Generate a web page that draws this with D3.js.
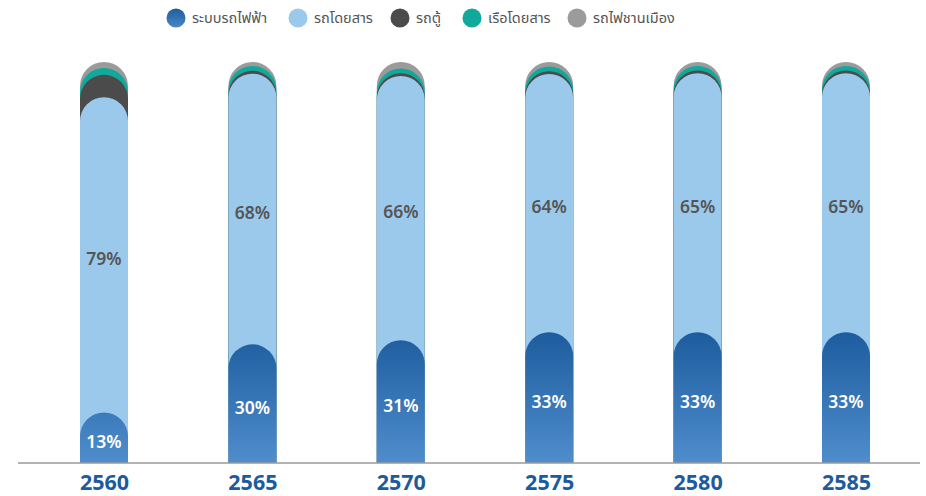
<!DOCTYPE html>
<html><head><meta charset="utf-8">
<script src="https://cdn.jsdelivr.net/npm/d3@7"></script>
<style>
html,body{margin:0;padding:0;background:#fff;}
svg{display:block;font-family:"Noto Sans Thai","Noto Sans","Open Sans",sans-serif;}
</style></head>
<body><svg id="c" width="926" height="496"></svg>
<script>
const years = ['2560','2565','2570','2575','2580','2585'];
const seriesNames = ['ระบบรถไฟฟ้า','รถโดยสาร','รถตู้','เรือโดยสาร','รถไฟชานเมือง'];
const rail  = [12.6, 29.6, 30.6, 32.6, 32.6, 32.6];
const bus   = [78.6, 67.5, 65.9, 64.4, 64.6, 64.6];
const van   = [5.6, 0.7, 0.7, 0.7, 0.7, 0.7];
const boat  = [1.7, 1.2, 1.2, 1.2, 1.1, 1.1];
const train = [1.5, 1.0, 1.6, 1.1, 1.0, 1.0];
const colors = ['url(#railGrad)','#9bc9ec','#4b4b4b','#10a99b','#9b9b9b'];
const legendColors = ['url(#legGrad)','#9bc9ec','#4b4b4b','#10a99b','#9b9b9b'];
const labeled = [true, true, false, false, false];
const labelColors = ['#ffffff','#555555'];

const svg = d3.select('#c');
const defs = svg.append('defs');
const g1 = defs.append('linearGradient').attr('id','railGrad')
  .attr('gradientUnits','userSpaceOnUse').attr('x1',0).attr('x2',0).attr('y1',330).attr('y2',463);
g1.append('stop').attr('offset','0%').attr('stop-color','#1c5b9d');
g1.append('stop').attr('offset','100%').attr('stop-color','#4f8dcd');
const g2 = defs.append('linearGradient').attr('id','legGrad').attr('x1',0).attr('x2',0).attr('y1',0).attr('y2',1);
g2.append('stop').attr('offset','0%').attr('stop-color','#1f5d9e');
g2.append('stop').attr('offset','100%').attr('stop-color','#4a86c6');

const seriesData = [rail, bus, van, boat, train];
const x = d3.scalePoint().domain(years).range([104, 846]);
const y = d3.scaleLinear().domain([0, 100]).range([463, 62]);
const bw = 48, r = bw / 2;

const stacked = years.map((yr, i) => {
  let c = 0;
  return seriesData.map((s, k) => { const lo = c; c += s[i]; return {k, lo, hi: c, v: s[i], yr}; });
});

function seg(cx, top, base) {
  const x0 = cx - r, x1 = cx + r;
  const p = d3.path();
  p.moveTo(x0, base);
  p.lineTo(x0, top + r);
  p.arc(cx, top + r, r, Math.PI, 0);
  p.lineTo(x1, base);
  p.closePath();
  return p.toString();
}

const bars = svg.append('g');
stacked.forEach(col => {
  const gg = bars.append('g');
  col.slice().reverse().forEach(d => {
    gg.append('path').attr('d', seg(x(d.yr), y(d.hi), y(0))).attr('fill', colors[d.k]);
  });
  col.forEach(d => {
    if (!labeled[d.k]) return;
    gg.append('text').attr('x', x(d.yr)).attr('y', (y(d.lo) + y(d.hi)) / 2 + 4)
      .attr('text-anchor','middle').attr('dy','0.36em')
      .attr('font-size', 17.5).attr('font-weight', 600)
      .attr('fill', labelColors[d.k]).text(Math.round(d.v) + '%');
  });
});

const ax = svg.append('g').attr('transform', `translate(0,${y(0)})`)
  .call(d3.axisBottom(x).tickSize(0).tickPadding(12));
ax.select('.domain').attr('d', 'M18,0H920').attr('stroke', '#9a9a9a').attr('stroke-width', 1.5);
ax.selectAll('text').attr('font-size', 21.5).attr('font-weight', 700).attr('fill', '#1c5b9d')
  .attr('font-family','"Noto Sans","Open Sans",sans-serif');

const legX = [176, 298, 400, 472, 577];
const leg = svg.append('g');
seriesNames.forEach((n, k) => {
  leg.append('circle').attr('cx', legX[k]).attr('cy', 18).attr('r', 9.5).attr('fill', legendColors[k]);
  leg.append('text').attr('x', legX[k] + 16).attr('y', 18).attr('dy', '0.35em')
    .attr('font-size', 14.5).attr('fill', '#555').text(n);
});
</script></body></html>
